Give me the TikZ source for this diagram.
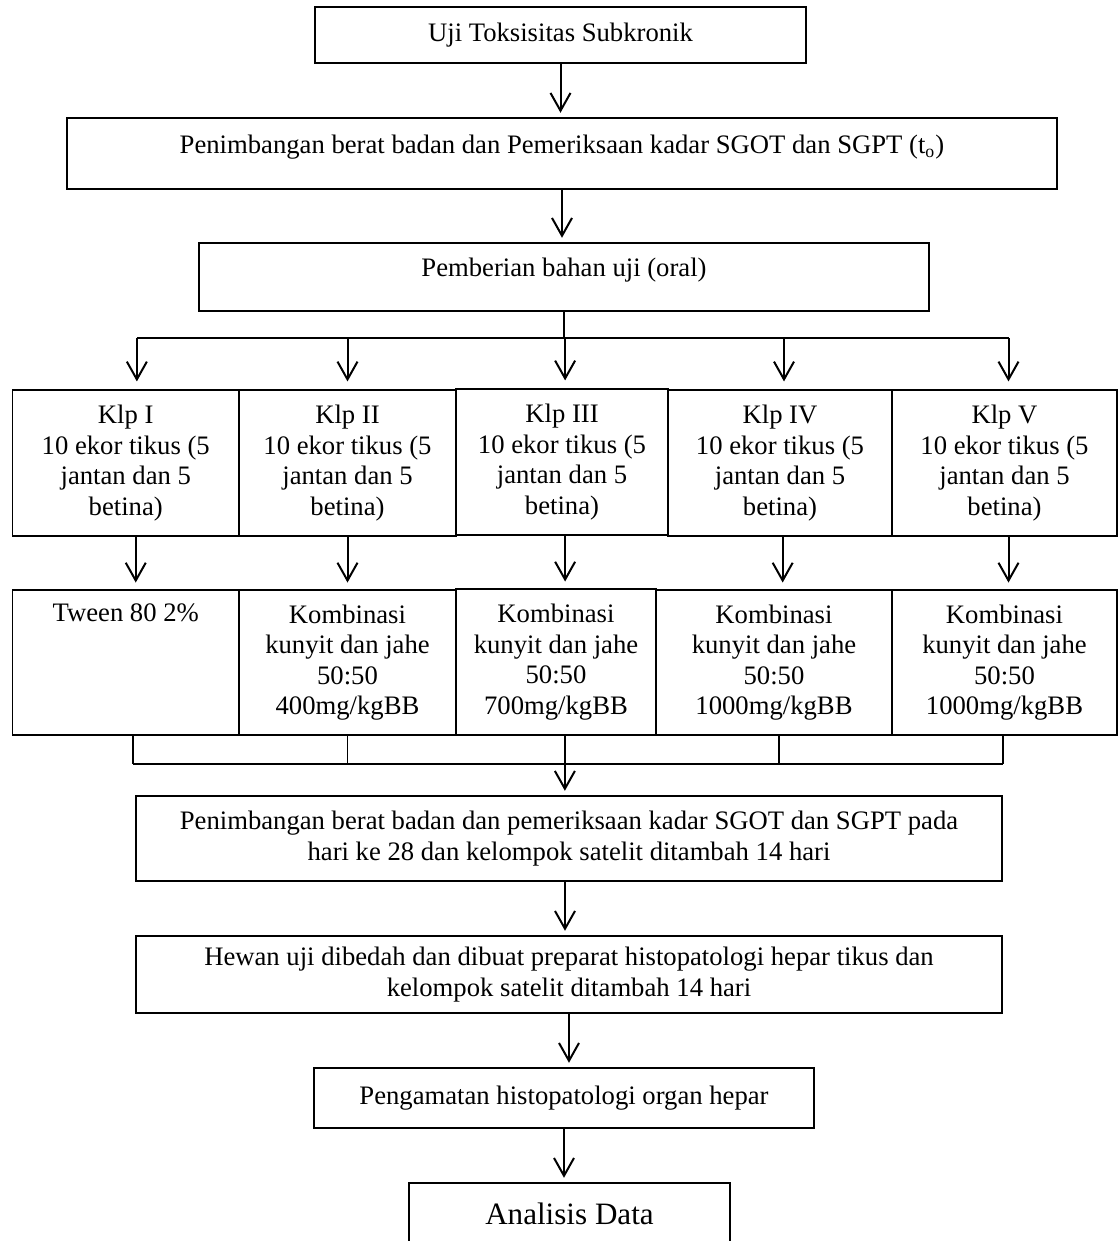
\documentclass[tikz,border=0pt]{standalone}
\usepackage{fontspec}
\setmainfont{Liberation Serif}
\usetikzlibrary{arrows.meta}
\newcommand{\px}{0.45pt}

\begin{document}
\begin{tikzpicture}[x=\px,y=-\px]
\tikzset{kotak/.style={draw, line width=0.7pt, inner sep=0pt, align=center, font=\fontsize{12}{13.7}\selectfont},
  panah/.style={line width=0.9pt, -{Straight Barb[length=8pt,width=9pt]}, shorten >=2pt},
  garis/.style={line width=0.7pt}}
\useasboundingbox (0,0) rectangle (1119,1241);
\clip (0,0) rectangle (1119,1241);
% alur atas
\node[kotak, minimum width=491*\px, minimum height=56*\px] (uji) at (560.5,35) {Uji Toksisitas Subkronik};
\node[kotak, minimum width=990*\px, minimum height=71*\px] (timbang0) at (562,153.5) {\raisebox{3pt}[\height][\depth]{Penimbangan berat badan dan Pemeriksaan kadar SGOT dan SGPT (t\textsubscript{o})}};
\node[kotak, minimum width=730*\px, minimum height=68*\px] (beri) at (564,277) {\raisebox{3pt}[\height][\depth]{Pemberian bahan uji (oral)}};
% kelompok
\node[kotak, minimum width=226.5*\px, minimum height=146*\px] (k1) at (125.75,463) {Klp I\\10 ekor tikus (5\\jantan dan 5\\betina)};
\node[kotak, minimum width=217*\px, minimum height=146*\px] (k2) at (347.5,463) {Klp II\\10 ekor tikus (5\\jantan dan 5\\betina)};
\node[kotak, minimum width=212*\px, minimum height=146*\px] (k3) at (562,462) {Klp III\\10 ekor tikus (5\\jantan dan 5\\betina)};
\node[kotak, minimum width=224*\px, minimum height=146*\px] (k4) at (780,463) {Klp IV\\10 ekor tikus (5\\jantan dan 5\\betina)};
\node[kotak, minimum width=225*\px, minimum height=146*\px] (k5) at (1004.5,463) {Klp V\\10 ekor tikus (5\\jantan dan 5\\betina)};
% dosis
\node[kotak, minimum width=226.5*\px, minimum height=145*\px] (d1) at (125.75,662.5) {Tween 80 2\%\\\strut\\\strut\\\strut};
\node[kotak, minimum width=217*\px, minimum height=145*\px] (d2) at (347.5,662.5) {Kombinasi\\kunyit dan jahe\\50:50\\400mg/kgBB};
\node[kotak, minimum width=200*\px, minimum height=146*\px] (d3) at (556,662) {Kombinasi\\kunyit dan jahe\\50:50\\700mg/kgBB};
\node[kotak, minimum width=236*\px, minimum height=145*\px] (d4) at (774,662.5) {Kombinasi\\kunyit dan jahe\\50:50\\1000mg/kgBB};
\node[kotak, minimum width=225*\px, minimum height=145*\px] (d5) at (1004.5,662.5) {Kombinasi\\kunyit dan jahe\\50:50\\1000mg/kgBB};
% alur bawah
\node[kotak, minimum width=866*\px, minimum height=85*\px] (timbang28) at (569,838.5) {Penimbangan berat badan dan pemeriksaan kadar SGOT dan SGPT pada\\hari ke 28 dan kelompok satelit ditambah 14 hari};
\node[kotak, minimum width=866*\px, minimum height=77*\px] (bedah) at (569,974.5) {Hewan uji dibedah dan dibuat preparat histopatologi hepar tikus dan\\kelompok satelit ditambah 14 hari};
\node[kotak, minimum width=500*\px, minimum height=60*\px] (amati) at (564,1098) {Pengamatan histopatologi organ hepar};
\node[kotak, minimum width=321*\px, minimum height=62*\px, font=\fontsize{14}{16}\selectfont] (analisis) at (569.5,1214) {Analisis Data};
% panah
\draw[panah] (uji.south) -- (uji.south |- timbang0.north);
\draw[panah] (timbang0.south) -- (timbang0.south |- beri.north);
\coordinate (cabang) at (565,338);
\draw[garis] (beri.south) -- (beri.south |- cabang);
\draw[garis] ([xshift=5pt]k1.north |- cabang) -- ([xshift=1.8pt]k5.north |- cabang);
\foreach \i/\g in {1/5pt,2/0pt,3/1.4pt,4/1.8pt,5/1.8pt}
  \draw[panah, shorten >=3.5pt] ([xshift=\g]k\i.north |- cabang) -- ([xshift=\g]k\i.north);
\foreach \i/\g in {1/4.5pt,2/0pt,3/1.4pt,4/1.2pt,5/1.8pt}
  \draw[panah, shorten >=3pt] ([xshift=\g]k\i.south) -- ([xshift=\g]k\i.south |- d\i.north);
\coordinate (kumpul) at (565,764);
\foreach \i/\g in {1/3.3pt,2/0pt,4/2.2pt,5/-0.7pt}
  \draw[garis] ([xshift=\g]d\i.south) -- ([xshift=\g]d\i.south |- kumpul);
\draw[garis] ([xshift=3.3pt]d1.south |- kumpul) -- ([xshift=-0.7pt]d5.south |- kumpul);
\draw[panah] ([xshift=4pt]d3.south) -- ([xshift=4pt]d3.south |- timbang28.north);
\draw[panah] ([xshift=-1.8pt]timbang28.south) -- ([xshift=-1.8pt]timbang28.south |- bedah.north);
\draw[panah] (bedah.south) -- (bedah.south |- amati.north);
\draw[panah] (amati.south) -- (amati.south |- analisis.north);
\end{tikzpicture}
\end{document}
